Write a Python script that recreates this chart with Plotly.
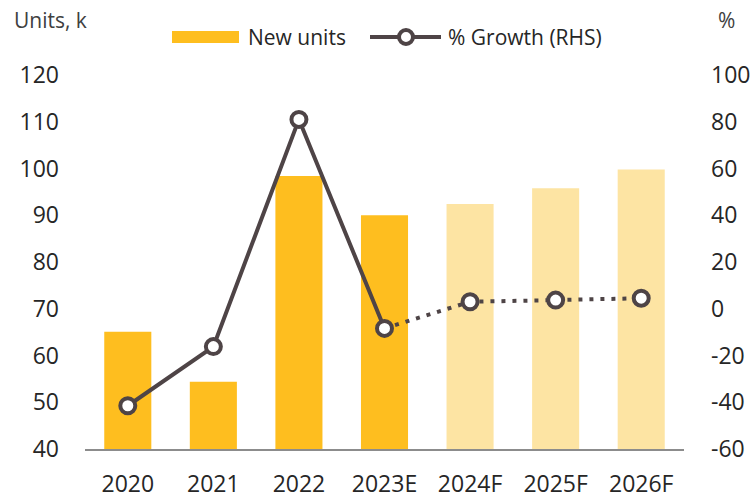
import plotly.graph_objects as go

categories = ["2020", "2021", "2022", "2023E", "2024F", "2025F", "2026F"]
new_units = [65.1, 54.4, 98.4, 90.0, 92.4, 95.8, 99.8]
growth_pct = [-41.5, -16.2, 81.0, -8.4, 3.0, 3.7, 4.5]
y_ticks = [40, 50, 60, 70, 80, 90, 100, 110, 120]
y2_ticks = [-60, -40, -20, 0, 20, 40, 60, 80, 100]
y2_ticktext = ["-60", "-40", "-20", "0", "20", "40", "60", "80", "100"]

GOLD = "#FEBE1F"
LIGHT = "#FDE4A3"
LINE = "#4E4446"
TXT = "#262626"
FONT = "Open Sans"

W, H = 756, 498
L, R, T, B = 85, 72, 75, 49
PW, PH = W - L - R, H - T - B

def px(x):
    return (x - L) / PW

def py(y):
    return (H - B - y) / PH

bar_colors = [GOLD] * 4 + [LIGHT] * 3

fig = go.Figure()
fig.add_trace(go.Bar(x=categories, y=new_units, marker=dict(color=bar_colors, line=dict(width=0)),
                     name="New units", showlegend=False))
fig.add_trace(go.Scatter(x=categories[:4], y=growth_pct[:4], yaxis="y2", mode="lines",
                         line=dict(color=LINE, width=4), showlegend=False))
fig.add_trace(go.Scatter(x=categories[3:], y=growth_pct[3:], yaxis="y2", mode="lines",
                         line=dict(color=LINE, width=4, dash="4px,7px"), showlegend=False))
fig.add_trace(go.Scatter(x=categories, y=growth_pct, yaxis="y2", mode="markers",
                         marker=dict(symbol="circle", size=15, color="white",
                                     line=dict(color=LINE, width=4)),
                         name="% Growth (RHS)", showlegend=False))

fig.update_layout(
    width=W, height=H,
    margin=dict(l=L, r=R, t=T, b=B, pad=0, autoexpand=False),
    paper_bgcolor="white", plot_bgcolor="white",
    font=dict(family=FONT, color=TXT, size=23),
    bargap=0.45,
    xaxis=dict(showgrid=False, showline=True, linecolor="#8C8C8C", linewidth=1.5,
               ticks="", tickfont=dict(size=23, color=TXT), ticklabelstandoff=14,
               zeroline=False, automargin=False),
    yaxis=dict(range=[40, 120], tickvals=y_ticks, showgrid=False, showline=False,
               zeroline=False, ticks="", tickfont=dict(size=23, color=TXT),
               ticklabelstandoff=25, automargin=False),
    yaxis2=dict(range=[-60, 100], tickvals=y2_ticks, ticktext=y2_ticktext, overlaying="y",
                side="right", showgrid=False, showline=False, zeroline=False, ticks="",
                tickfont=dict(size=23, color=TXT), ticklabelstandoff=26, automargin=False),
    showlegend=False,
)

# Custom legend
shapes = [
    dict(type="rect", xref="paper", yref="paper", x0=px(172), x1=px(239), y0=py(43), y1=py(31),
         fillcolor=GOLD, line=dict(width=0)),
    dict(type="line", xref="paper", yref="paper", x0=px(370), x1=px(441), y0=py(37), y1=py(37),
         line=dict(color=LINE, width=4)),
    dict(type="circle", xref="paper", yref="paper", xsizemode="pixel", ysizemode="pixel",
         xanchor=px(406), yanchor=py(37), x0=-7, x1=7, y0=-7, y1=7,
         fillcolor="white", line=dict(color=LINE, width=4)),
]
annotations = [
    dict(text="New units", xref="paper", yref="paper", x=px(246), y=py(37), xanchor="left",
         yanchor="middle", showarrow=False, font=dict(size=21, color=TXT, family=FONT)),
    dict(text="% Growth (RHS)", xref="paper", yref="paper", x=px(446), y=py(37), xanchor="left",
         yanchor="middle", showarrow=False, font=dict(size=21, color=TXT, family=FONT)),
    dict(text="Units, k", xref="paper", yref="paper", x=px(12), y=py(20), xanchor="left",
         yanchor="middle", showarrow=False, font=dict(size=21, color="#404040", family=FONT)),
    dict(text="%", xref="paper", yref="paper", x=px(737), y=py(20), xanchor="right",
         yanchor="middle", showarrow=False, font=dict(size=21, color="#404040", family=FONT)),
]
fig.update_layout(shapes=shapes, annotations=annotations)

fig.write_html("out.html", config={"displayModeBar": False},
               post_script="document.body.style.margin='0';document.body.style.overflow='hidden';")
